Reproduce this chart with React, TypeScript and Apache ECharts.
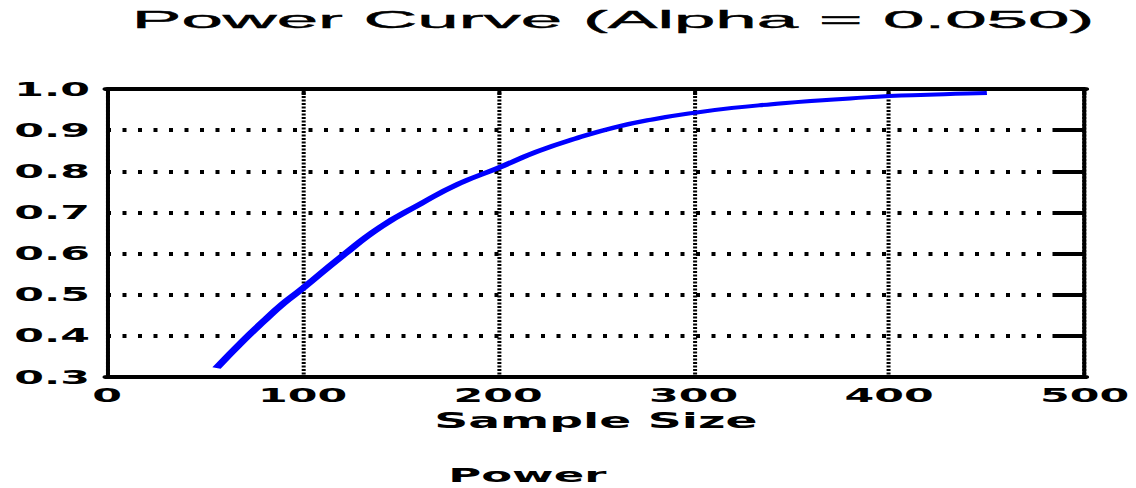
import React, { useEffect, useRef } from "react";
import * as echarts from "echarts";

const sampleSizes = [56, 70, 80, 90, 100, 120, 140, 160, 180, 200, 220, 240, 260, 280, 300, 320, 340, 360, 380, 400, 420, 440, 450];
const powerValues = [0.322, 0.39, 0.435, 0.478, 0.515, 0.593, 0.665, 0.72, 0.77, 0.808, 0.848, 0.88, 0.907, 0.927, 0.942, 0.954, 0.963, 0.971, 0.977, 0.983, 0.986, 0.989, 0.99];
const xTicks = { min: 0, max: 500, interval: 100 };
const yTicks = { min: 0.3, max: 1.0, interval: 0.1 };
const titleText = "Power Curve (Alpha = 0.050)";
const xAxisName = "Sample Size";
const seriesName = "Power";

// the reference uses a horizontally stretched font; the whole chart is drawn
// narrower and stretched back to full width
const W = 505;
const S = 1136 / W;
const H = 488;

const labelFont = {
  color: "#000",
  fontFamily: "DejaVu Sans",
  fontWeight: "bold" as any,
  fontSize: 19,
};

export default function App() {
  const ref = useRef<HTMLDivElement>(null);
  useEffect(() => {
    document.body.style.margin = "0";
    if (!ref.current) return;
    const chart = echarts.init(ref.current, undefined, { renderer: "svg", width: W, height: H });
    const black = "#000";
    const vW = 4 / S; // width of vertical strokes
    chart.setOption({
      animation: false,
      backgroundColor: "#fff",
      graphic: [
        {
          type: "text",
          x: 613 / S,
          y: 8,
          scaleX: 1.38,
          style: {
            text: titleText,
            fill: black,
            stroke: black,
            lineWidth: 0.4,
            font: "24px 'Liberation Sans'",
            textAlign: "center",
            textVerticalAlign: "top",
          },
        },
      ],
      legend: {
        data: [{ name: seriesName, icon: "none" }],
        left: 527 / S - 35 - 5,
        top: 465,
        padding: 0,
        itemWidth: 0,
        itemGap: 0,
        selectedMode: false,
        textStyle: { ...labelFont, fontSize: 20, lineHeight: 18 },
      },
      grid: { left: 107 / S, right: (1136 - 1090) / S, top: 89, bottom: H - 377, containLabel: false },
      xAxis: [
        {
          type: "value",
          position: "bottom",
          min: xTicks.min,
          max: xTicks.max,
          interval: xTicks.interval,
          name: xAxisName,
          nameLocation: "middle",
          nameGap: 31,
          nameTextStyle: { ...labelFont, fontSize: 21 },
          axisLine: { show: true, onZero: false, lineStyle: { color: black, width: 4 } },
          axisTick: { show: false },
          axisLabel: { ...labelFont, margin: 9 },
          splitLine: { show: true, lineStyle: { color: black, width: vW, type: [2, 1.5] } },
        },
        {
          type: "value",
          position: "top",
          min: xTicks.min,
          max: xTicks.max,
          interval: xTicks.interval,
          axisLine: { show: true, onZero: false, lineStyle: { color: black, width: 4 } },
          axisTick: { show: true, inside: true, length: 6, lineStyle: { color: black, width: vW } },
          axisLabel: { show: false },
          splitLine: { show: false },
        },
      ],
      yAxis: [
        {
          type: "value",
          position: "left",
          min: yTicks.min,
          max: yTicks.max,
          interval: yTicks.interval,
          axisLine: { show: true, onZero: false, lineStyle: { color: black, width: vW } },
          axisTick: { show: false },
          axisLabel: { ...labelFont, margin: 17 / S, formatter: (v: number) => v.toFixed(1) },
          splitLine: { show: true, lineStyle: { color: black, width: 4, type: [4 / S, 11.5 / S] } },
        },
        {
          type: "value",
          position: "right",
          min: yTicks.min,
          max: yTicks.max,
          interval: yTicks.interval,
          axisLine: { show: true, onZero: false, lineStyle: { color: black, width: vW } },
          axisTick: { show: true, inside: true, length: 30 / S, lineStyle: { color: black, width: 4 } },
          axisLabel: { show: false },
          splitLine: { show: false },
        },
      ],
      series: [
        {
          name: seriesName,
          type: "line",
          xAxisIndex: 0,
          yAxisIndex: 0,
          data: sampleSizes.map((s, i) => [s, powerValues[i]]),
          smooth: true,
          showSymbol: false,
          symbol: "none",
          lineStyle: { color: "#0000ff", width: 4 },
          itemStyle: { color: "#0000ff" },
          z: 3,
        },
      ],
    });
    return () => chart.dispose();
  }, []);
  return (
    <div
      ref={ref}
      style={{
        position: "fixed",
        left: 0,
        top: 0,
        width: W,
        height: H,
        background: "#fff",
        transform: `scaleX(${S})`,
        transformOrigin: "0 0",
      }}
    />
  );
}
